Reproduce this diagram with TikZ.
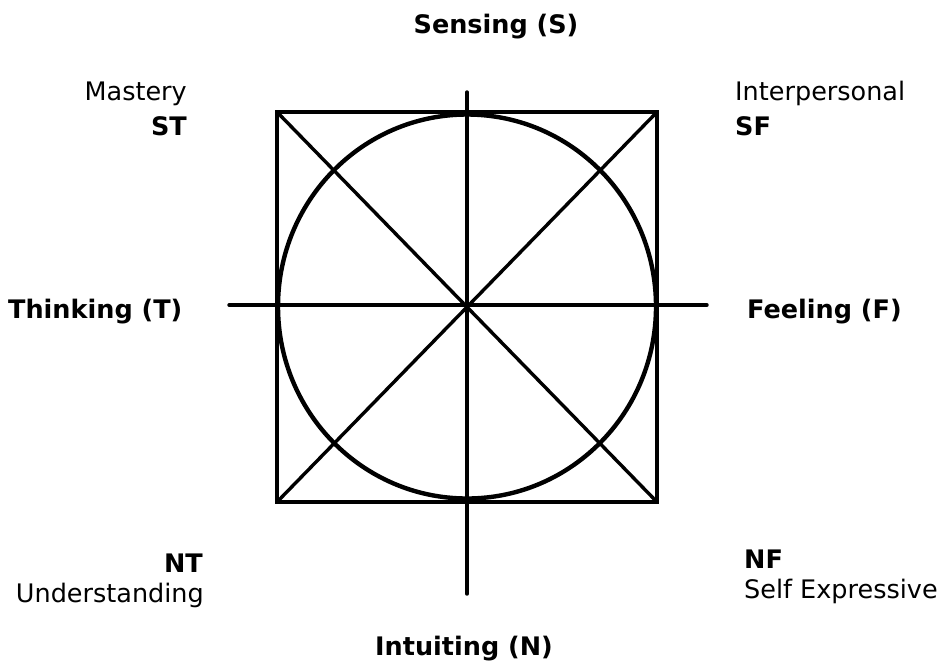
\documentclass[tikz,border=0pt]{standalone}
\usepackage{fontspec}
\setmainfont{DejaVu Sans}
\begin{document}
\begin{tikzpicture}[x=1pt,y=-1pt,
  lbl/.style={inner sep=0pt,font=\fontsize{25.5}{30}\selectfont},
  blbl/.style={inner sep=0pt,font=\fontsize{25.5}{30}\selectfont\bfseries},
  ln/.style={line width=3.4pt,black,line cap=round},
  circ/.style={line width=4.4pt,black}]
\useasboundingbox[fill=white] (0,0) rectangle (952,662);
% geometry
\coordinate (C) at (467,306.5);
\coordinate (TL) at (277,112);
\coordinate (TR) at (657,112);
\coordinate (BR) at (657,502);
\coordinate (BL) at (277,502);
\coordinate (VT) at (467,92);
\coordinate (VB) at (467,594);
\coordinate (HL) at (229,305);
\coordinate (HR) at (707,305);
\draw[circ] (C) ellipse [x radius=189, y radius=192];
\draw[ln,line cap=butt,line join=miter] (TL) -- (TR) -- (BR) -- (BL) -- cycle;
\draw[ln] (TL) -- (BR);
\draw[ln] (TR) -- (BL);
\draw[ln] (VT) -- (VB);
\draw[ln] (HL) -- (HR);
% labels
\node[blbl,anchor=base] (S) at (496,33) {Sensing (S)};
\node[blbl,anchor=base] (N) at (464,655) {Intuiting (N)};
\node[blbl,anchor=base west] (T) at (8,318) {Thinking (T)};
\node[blbl,anchor=base west] (F) at (747,318) {Feeling (F)};
\node[lbl,anchor=base east] (mas) at (187,100) {Mastery};
\node[blbl,anchor=base east] (ST) at (187,135) {ST};
\node[lbl,anchor=base west] (inter) at (735,100) {Interpersonal};
\node[blbl,anchor=base west] (SF) at (735,135) {SF};
\node[blbl,anchor=base east] (NT) at (203,572) {NT};
\node[lbl,anchor=base east] (und) at (204,602) {Understanding};
\node[blbl,anchor=base west] (NF) at (744,568) {NF};
\node[lbl,anchor=base west] (self) at (744,598) {Self Expressive};
\end{tikzpicture}
\end{document}
